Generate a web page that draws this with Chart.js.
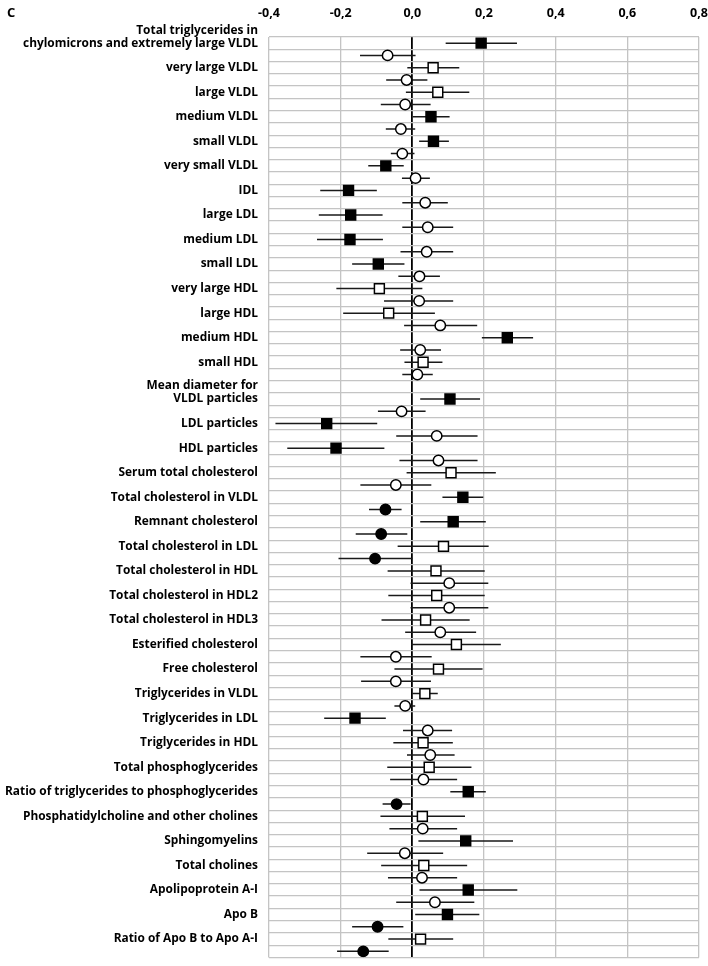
<!DOCTYPE html>
<html lang="en">
<head>
<meta charset="utf-8">
<title>Forest plot C</title>
<script src="https://cdn.jsdelivr.net/npm/chart.js@4.4.1/dist/chart.umd.min.js"></script>
<style>
  html, body { margin: 0; padding: 0; background: #ffffff; }
  #quadro { width: 708px; height: 966px; position: relative; }
</style>
</head>
<body>
<div id="quadro"><canvas id="grafico" width="708" height="966"></canvas></div>
<script>
/* =========================================================
   DATA
========================================================= */

const categorias = [
  ['Total triglycerides in', 'chylomicrons and extremely large VLDL'],
  'very large VLDL',
  'large VLDL',
  'medium VLDL',
  'small VLDL',
  'very small VLDL',
  'IDL',
  'large LDL',
  'medium LDL',
  'small LDL',
  'very large HDL',
  'large HDL',
  'medium HDL',
  'small HDL',
  ['Mean diameter for', 'VLDL particles'],
  'LDL particles',
  'HDL particles',
  'Serum total cholesterol',
  'Total cholesterol in VLDL',
  'Remnant cholesterol',
  'Total cholesterol in LDL',
  'Total cholesterol in HDL',
  'Total cholesterol in HDL2',
  'Total cholesterol in HDL3',
  'Esterified cholesterol',
  'Free cholesterol',
  'Triglycerides in VLDL',
  'Triglycerides in LDL',
  'Triglycerides in HDL',
  'Total phosphoglycerides',
  'Ratio of triglycerides to phosphoglycerides',
  'Phosphatidylcholine and other cholines',
  'Sphingomyelins',
  'Total cholines',
  'Apolipoprotein A-I',
  'Apo B',
  'Ratio of Apo B to Apo A-I'
];

// first row of each category (square marker)
const estQuadrado = [0.192, 0.058, 0.071, 0.052, 0.059, -0.074, -0.178, -0.172, -0.174, -0.095,
  -0.092, -0.066, 0.265, 0.030, 0.105, -0.239, -0.213, 0.108, 0.141, 0.114,
  0.087, 0.066, 0.068, 0.037, 0.123, 0.073, 0.035, -0.160, 0.030, 0.047,
  0.156, 0.028, 0.149, 0.032, 0.156, 0.098, 0.023];
const infQuadrado = [0.093, -0.014, -0.018, 0.001, 0.019, -0.123, -0.257, -0.261, -0.266, -0.168,
  -0.212, -0.193, 0.194, -0.022, 0.022, -0.382, -0.349, -0.016, 0.084, 0.022,
  -0.041, -0.069, -0.067, -0.086, -0.003, -0.050, 0.000, -0.246, -0.053, -0.070,
  0.106, -0.089, 0.017, -0.087, 0.020, 0.008, -0.067];
const supQuadrado = [0.292, 0.131, 0.159, 0.104, 0.102, -0.024, -0.099, -0.083, -0.082, -0.022,
  0.028, 0.063, 0.337, 0.084, 0.189, -0.098, -0.078, 0.233, 0.198, 0.205,
  0.213, 0.202, 0.202, 0.160, 0.247, 0.196, 0.071, -0.074, 0.113, 0.165,
  0.205, 0.147, 0.281, 0.153, 0.293, 0.187, 0.114];
const cheioQuadrado = [1, 0, 0, 1, 1, 1, 1, 1, 1, 1,
  0, 0, 1, 0, 1, 1, 1, 0, 1, 1,
  0, 0, 0, 0, 0, 0, 0, 1, 0, 0,
  1, 0, 1, 0, 1, 1, 0];

// second row of each category (circle marker)
const estCirculo = [-0.069, -0.016, -0.020, -0.032, -0.028, 0.009, 0.036, 0.043, 0.040, 0.020,
  0.019, 0.078, 0.022, 0.014, -0.030, 0.068, 0.073, -0.046, -0.075, -0.087,
  -0.104, 0.103, 0.103, 0.078, -0.046, -0.046, -0.020, 0.043, 0.050, 0.031,
  -0.044, 0.029, -0.021, 0.027, 0.063, -0.097, -0.137];
const infCirculo = [-0.146, -0.073, -0.088, -0.074, -0.060, -0.029, -0.028, -0.028, -0.033, -0.039,
  -0.079, -0.023, -0.034, -0.028, -0.096, -0.045, -0.036, -0.145, -0.121, -0.158,
  -0.206, -0.005, -0.005, -0.020, -0.145, -0.143, -0.050, -0.026, -0.015, -0.062,
  -0.083, -0.064, -0.126, -0.068, -0.045, -0.168, -0.210];
const supCirculo = [0.009, 0.042, 0.051, 0.008, 0.006, 0.049, 0.099, 0.114, 0.114, 0.077,
  0.114, 0.181, 0.080, 0.057, 0.037, 0.182, 0.182, 0.053, -0.030, -0.014,
  0.000, 0.212, 0.212, 0.178, 0.054, 0.052, 0.008, 0.111, 0.118, 0.125,
  -0.005, 0.125, 0.086, 0.125, 0.173, -0.025, -0.066];
const cheioCirculo = [0, 0, 0, 0, 0, 0, 0, 0, 0, 0,
  0, 0, 0, 0, 0, 0, 0, 0, 1, 1,
  1, 0, 0, 0, 0, 0, 0, 0, 0, 0,
  1, 0, 0, 0, 0, 1, 1];

// empty rows (room for a two-line label)
const linhasVazias = [28];

const ticksX = [-0.4, -0.2, 0, 0.2, 0.4, 0.6, 0.8];


/* =========================================================
   ROWS
========================================================= */

const linhas = [];
let r = 0;
categorias.forEach(() => {
  while (linhasVazias.includes(r)) r++;
  linhas.push(r);
  r += 2;
});
const totalLinhas = r;

const pontosQuadrado = linhas.map((l, i) => ({ x: estQuadrado[i], y: l + 0.5 }));
const pontosCirculo = linhas.map((l, i) => ({ x: estCirculo[i], y: l + 1.5 }));

// error bars: one line, broken by NaN points
const barrasErro = [];
linhas.forEach((l, i) => {
  barrasErro.push({ x: infQuadrado[i], y: l + 0.5 }, { x: supQuadrado[i], y: l + 0.5 }, { x: NaN, y: NaN });
  barrasErro.push({ x: infCirculo[i], y: l + 1.5 }, { x: supCirculo[i], y: l + 1.5 }, { x: NaN, y: NaN });
});


/* =========================================================
   LABELS (left side) + panel letter
========================================================= */

const fonte = '"Open Sans", Lato, sans-serif';

const rotulos = {
  id: 'rotulos',
  afterDraw(chart) {
    const { ctx, chartArea } = chart;
    const y = chart.scales.y;

    ctx.save();
    ctx.fillStyle = '#000';
    ctx.font = 'bold 11.9px ' + fonte;
    ctx.textAlign = 'right';
    ctx.textBaseline = 'middle';

    categorias.forEach((c, i) => {
      const partes = Array.isArray(c) ? c : [c];
      const base = y.getPixelForValue(linhas[i] + 0.5);
      partes.slice().reverse().forEach((t, k) => {
        ctx.fillText(t, chartArea.left - 11, base - k * 13);
      });
    });

    ctx.font = 'bold 13px ' + fonte;
    ctx.textAlign = 'left';
    ctx.fillText('C', 7, 13);
    ctx.restore();
  }
};


/* =========================================================
   CHART
========================================================= */

const corGrade = '#c4c4c4';

new Chart(document.getElementById('grafico'), {
  type: 'scatter',
  data: {
    datasets: [
      {
        data: pontosQuadrado,
        pointStyle: 'rect',
        pointRadius: 7,
        pointBackgroundColor: cheioQuadrado.map(v => v ? '#000' : '#fff'),
        pointBorderColor: '#000',
        pointBorderWidth: 1.5,
        order: 0
      },
      {
        data: pontosCirculo,
        pointStyle: 'circle',
        pointRadius: 5.2,
        pointBackgroundColor: cheioCirculo.map(v => v ? '#000' : '#fff'),
        pointBorderColor: '#000',
        pointBorderWidth: 1.5,
        order: 0
      },
      {
        data: barrasErro,
        showLine: true,
        spanGaps: false,
        borderColor: '#1a1a1a',
        borderWidth: 1.5,
        pointRadius: 0,
        order: 1
      }
    ]
  },
  options: {
    responsive: false,
    animation: false,
    events: [],
    layout: { padding: { left: 269, right: 9, top: 0, bottom: 2 } },
    plugins: {
      legend: { display: false },
      tooltip: { enabled: false }
    },
    scales: {
      x: {
        type: 'linear',
        position: 'top',
        min: -0.4,
        max: 0.8,
        afterBuildTicks: s => { s.ticks = ticksX.map(v => ({ value: v })); },
        afterFit: s => { s.height = 37; s.paddingLeft = 0; s.paddingRight = 0; },
        ticks: {
          color: '#000',
          padding: 16,
          font: { family: fonte, weight: 'bold', size: 12.5 },
          callback: v => v.toFixed(1).replace('.', ',')
        },
        grid: {
          drawTicks: false,
          color: c => Math.abs(c.tick.value) < 1e-9 ? '#000' : corGrade,
          lineWidth: c => Math.abs(c.tick.value) < 1e-9 ? 1.8 : 1.3
        },
        border: { display: false }
      },
      y: {
        type: 'linear',
        reverse: true,
        min: 0,
        max: totalLinhas,
        afterFit: s => { s.width = 0; s.paddingTop = 0; s.paddingBottom = 0; },
        ticks: { display: false, stepSize: 1, autoSkip: false },
        grid: { drawTicks: false, color: corGrade, lineWidth: 1.3 },
        border: { display: false }
      }
    }
  },
  plugins: [rotulos]
});
</script>
</body>
</html>
